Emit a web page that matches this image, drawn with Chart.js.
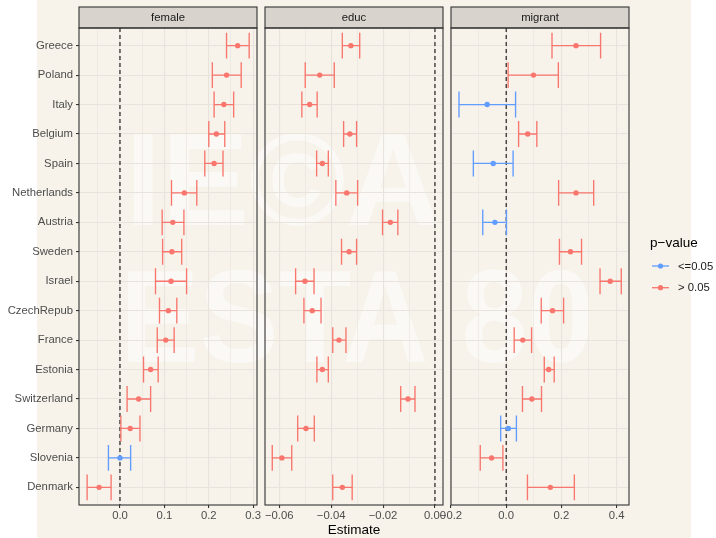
<!DOCTYPE html>
<html>
<head>
<meta charset="utf-8">
<script src="https://cdn.jsdelivr.net/npm/chart.js@4/dist/chart.umd.min.js"></script>
<style>
  html, body { margin: 0; padding: 0; background: #fff; }
  #wrap { position: relative; width: 716px; height: 538px; }
  #wrap canvas { position: absolute; left: 0; top: 0; }
</style>
</head>
<body>
<div id="wrap">
  <canvas id="female" width="716" height="538"></canvas>
  <canvas id="educ" width="716" height="538"></canvas>
  <canvas id="migrant" width="716" height="538"></canvas>
</div>
<script>
// countries, top to bottom
const countries = ["Greece", "Poland", "Italy", "Belgium", "Spain", "Netherlands", "Austria", "Sweden",
  "Israel", "CzechRepub", "France", "Estonia", "Switzerland", "Germany", "Slovenia", "Denmark"];

// female
const femaleEst = [0.265, 0.240, 0.234, 0.217, 0.212, 0.145, 0.119, 0.117, 0.115, 0.109, 0.103, 0.069, 0.042, 0.023, 0.000, -0.047];
const femaleLo  = [0.240, 0.208, 0.212, 0.200, 0.191, 0.116, 0.095, 0.096, 0.080, 0.089, 0.084, 0.053, 0.016, 0.002, -0.026, -0.074];
const femaleHi  = [0.291, 0.273, 0.256, 0.236, 0.232, 0.173, 0.144, 0.139, 0.150, 0.128, 0.122, 0.086, 0.069, 0.045, 0.024, -0.020];
const femaleP   = ["> 0.05", "> 0.05", "> 0.05", "> 0.05", "> 0.05", "> 0.05", "> 0.05", "> 0.05",
  "> 0.05", "> 0.05", "> 0.05", "> 0.05", "> 0.05", "> 0.05", "<=0.05", "> 0.05"];

// educ
const educEst = [-0.0324, -0.0444, -0.0483, -0.0328, -0.0434, -0.0340, -0.0172, -0.0331, -0.0501, -0.0473, -0.0370, -0.0434, -0.0104, -0.0497, -0.0590, -0.0357];
const educLo  = [-0.0357, -0.0500, -0.0513, -0.0352, -0.0456, -0.0382, -0.0202, -0.0360, -0.0537, -0.0505, -0.0394, -0.0455, -0.0132, -0.0529, -0.0627, -0.0394];
const educHi  = [-0.0290, -0.0388, -0.0454, -0.0302, -0.0411, -0.0298, -0.0143, -0.0302, -0.0466, -0.0439, -0.0343, -0.0411, -0.0077, -0.0465, -0.0552, -0.0319];
const educP   = ["> 0.05", "> 0.05", "> 0.05", "> 0.05", "> 0.05", "> 0.05", "> 0.05", "> 0.05",
  "> 0.05", "> 0.05", "> 0.05", "> 0.05", "> 0.05", "> 0.05", "> 0.05", "> 0.05"];

// migrant
const migrantEst = [0.253, 0.099, -0.069, 0.078, -0.047, 0.253, -0.041, 0.233, 0.377, 0.168, 0.060, 0.154, 0.093, 0.008, -0.053, 0.160];
const migrantLo  = [0.166, 0.007, -0.171, 0.045, -0.119, 0.190, -0.085, 0.193, 0.340, 0.127, 0.029, 0.138, 0.059, -0.020, -0.094, 0.077];
const migrantHi  = [0.342, 0.189, 0.034, 0.111, 0.025, 0.317, 0.001, 0.273, 0.417, 0.208, 0.092, 0.174, 0.128, 0.037, -0.012, 0.247];
const migrantP   = ["> 0.05", "> 0.05", "<=0.05", "> 0.05", "<=0.05", "> 0.05", "<=0.05", "> 0.05",
  "> 0.05", "> 0.05", "> 0.05", "> 0.05", "> 0.05", "<=0.05", "> 0.05", "> 0.05"];

// tick labels per panel
const femaleTicks = [0, 0.1, 0.2, 0.3];
const femaleTickLabels = ["0.0", "0.1", "0.2", "0.3"];
const femaleMinor = [-0.05, 0.05, 0.15, 0.25];
const educTicks = [-0.06, -0.04, -0.02, 0];
const educTickLabels = ["\u22120.06", "\u22120.04", "\u22120.02", "0.00"];
const educMinor = [-0.05, -0.03, -0.01];
const migrantTicks = [-0.2, 0, 0.2, 0.4];
const migrantTickLabels = ["\u22120.2", "0.0", "0.2", "0.4"];
const migrantMinor = [-0.1, 0.1, 0.3];

const groups = ["<=0.05", "> 0.05"];
const groupColors = { "<=0.05": "#619CFF", "> 0.05": "#F8766D" };

Chart.defaults.font.family = "'Liberation Sans', Arial, sans-serif";

const W = 716, H = 538;
const stripTop = 7, panelTop = 28, panelBottom = 505;

// background + watermark, drawn once under everything
const backdrop = {
  id: 'backdrop',
  beforeDraw(chart) {
    const ctx = chart.ctx;
    ctx.save();
    ctx.fillStyle = '#F7F2EA';
    ctx.fillRect(37, 0, 654, H);
    ctx.fillStyle = 'rgba(255,255,255,0.5)';
    ctx.font = "bold 175px 'Liberation Sans', Arial, sans-serif";
    ctx.textBaseline = 'alphabetic';
    ctx.save();
    ctx.translate(125, 225);
    ctx.scale(0.75, 0.75);
    ctx.fillText("IE\u00A9A", 0, 0);
    ctx.restore();
    ctx.save();
    ctx.translate(120, 362);
    ctx.scale(0.68, 0.75);
    ctx.fillText("ESTA 80", 0, 0);
    ctx.restore();
    ctx.restore();
  }
};

// panel border + facet strip
const panelDeco = {
  id: 'panelDeco',
  afterDraw(chart, args, opts) {
    const { ctx, chartArea: a } = chart;
    ctx.save();
    ctx.fillStyle = '#D8D3CD';
    ctx.fillRect(a.left, stripTop, a.right - a.left, panelTop - stripTop);
    ctx.strokeStyle = '#333333';
    ctx.lineWidth = 1.1;
    ctx.strokeRect(a.left, stripTop, a.right - a.left, panelTop - stripTop);
    ctx.strokeRect(a.left, a.top, a.right - a.left, a.bottom - a.top);
    ctx.fillStyle = '#1A1A1A';
    ctx.font = "11.3px 'Liberation Sans', Arial, sans-serif";
    ctx.textAlign = 'center';
    ctx.textBaseline = 'middle';
    ctx.fillText(opts.strip, (a.left + a.right) / 2, (stripTop + panelTop) / 2 + 0.5);
    ctx.restore();
  }
};

// legend for the colour groups
const pLegend = {
  id: 'pLegend',
  afterDraw(chart, args, opts) {
    if (!opts.show) return;
    const ctx = chart.ctx;
    ctx.save();
    ctx.fillStyle = '#000';
    ctx.font = "13.5px 'Liberation Sans', Arial, sans-serif";
    ctx.textBaseline = 'middle';
    ctx.fillText("p\u2212value", 650, 243);
    ctx.font = "11.3px 'Liberation Sans', Arial, sans-serif";
    groups.forEach((g, k) => {
      const y = 266 + k * 21.7;
      ctx.strokeStyle = groupColors[g];
      ctx.lineWidth = 1.3;
      ctx.beginPath();
      ctx.moveTo(652, y);
      ctx.lineTo(669, y);
      ctx.stroke();
      ctx.fillStyle = groupColors[g];
      ctx.beginPath();
      ctx.arc(660.5, y, 2.6, 0, Math.PI * 2);
      ctx.fill();
      ctx.fillStyle = '#1A1A1A';
      ctx.fillText(g, 678, y + 0.5);
    });
    ctx.restore();
  }
};

function near(a, b) { return Math.abs(a - b) < 1e-9; }

function makePanel(id, cfg) {
  const datasets = [];
  datasets.push({
    data: [{ x: 0, y: -0.6 }, { x: 0, y: 15.6 }],
    showLine: true, borderColor: '#111', borderWidth: 1.1, borderDash: [4, 3],
    pointRadius: 0, order: 3
  });
  groups.forEach(g => {
    const bars = [], pts = [];
    cfg.est.forEach((e, i) => {
      if (cfg.p[i] !== g) return;
      bars.push({ x: cfg.lo[i], y: i }, { x: cfg.hi[i], y: i }, { x: null, y: null });
      bars.push({ x: cfg.lo[i], y: i - 0.44 }, { x: cfg.lo[i], y: i + 0.44 }, { x: null, y: null });
      bars.push({ x: cfg.hi[i], y: i - 0.44 }, { x: cfg.hi[i], y: i + 0.44 }, { x: null, y: null });
      pts.push({ x: e, y: i });
    });
    if (!pts.length) return;
    datasets.push({
      data: bars, showLine: true, spanGaps: false, borderColor: groupColors[g],
      borderWidth: 1.35, pointRadius: 0, order: 2
    });
    datasets.push({
      data: pts, showLine: false, pointRadius: 2.7, pointBackgroundColor: groupColors[g],
      pointBorderWidth: 0, order: 1
    });
  });

  const isMajor = v => cfg.ticks.some(t => near(t, v));
  const allTicks = cfg.ticks.concat(cfg.minor).sort((a, b) => a - b);

  return new Chart(document.getElementById(id), {
    type: 'scatter',
    data: { datasets },
    plugins: cfg.first ? [backdrop, panelDeco, pLegend] : [panelDeco, pLegend],
    options: {
      responsive: false,
      animation: false,
      devicePixelRatio: 1,
      events: [],
      layout: { padding: { left: cfg.padLeft, right: W - cfg.right, top: panelTop, bottom: 0 } },
      plugins: {
        legend: { display: false },
        tooltip: { enabled: false },
        panelDeco: { strip: cfg.strip },
        pLegend: { show: !!cfg.legend }
      },
      scales: {
        x: {
          type: 'linear', min: cfg.min, max: cfg.max,
          afterBuildTicks: s => { s.ticks = allTicks.map(v => ({ value: v })); },
          afterFit: s => { s.height = H - panelBottom; },
          ticks: {
            autoSkip: false, maxRotation: 0, minRotation: 0, padding: 1.5,
            color: '#4D4D4D', font: { size: 11.3 },
            callback: v => {
              const k = cfg.ticks.findIndex(t => near(t, v));
              return k >= 0 ? cfg.labels[k] : '';
            }
          },
          grid: {
            color: '#E8E3DC',
            lineWidth: c => (c.tick && isMajor(c.tick.value)) ? 1.1 : 0.6,
            tickLength: 3,
            tickColor: c => (c.tick && isMajor(c.tick.value)) ? '#333333' : 'rgba(0,0,0,0)'
          },
          border: { display: false },
          title: {
            display: !!cfg.title, text: cfg.title || '', color: '#000',
            font: { size: 13.5 }, padding: { top: 0, bottom: 0 }
          }
        },
        y: {
          type: 'linear', min: -0.6, max: 15.6, reverse: true,
          afterBuildTicks: s => { s.ticks = countries.map((c, i) => ({ value: i })); },
          afterFit: s => { s.width = cfg.yWidth; },
          ticks: {
            display: !!cfg.first, autoSkip: false, padding: 3,
            color: '#4D4D4D', font: { size: 11.3 },
            callback: v => countries[v]
          },
          grid: {
            color: '#E8E3DC', lineWidth: 1.1, tickLength: 3,
            drawTicks: !!cfg.first, tickColor: '#333333'
          },
          border: { display: false }
        }
      }
    }
  });
}

makePanel('female', {
  first: true, strip: 'female', padLeft: 0, yWidth: 79, right: 257,
  est: femaleEst, lo: femaleLo, hi: femaleHi, p: femaleP,
  min: -0.0923, max: 0.3086, ticks: femaleTicks, labels: femaleTickLabels, minor: femaleMinor
});
makePanel('educ', {
  strip: 'educ', padLeft: 265, yWidth: 0, right: 443, title: 'Estimate',
  est: educEst, lo: educLo, hi: educHi, p: educP,
  min: -0.0655, max: 0.0031, ticks: educTicks, labels: educTickLabels, minor: educMinor
});
makePanel('migrant', {
  strip: 'migrant', padLeft: 451, yWidth: 0, right: 629, legend: true,
  est: migrantEst, lo: migrantLo, hi: migrantHi, p: migrantP,
  min: -0.2, max: 0.445, ticks: migrantTicks, labels: migrantTickLabels, minor: migrantMinor
});
</script>
</body>
</html>
